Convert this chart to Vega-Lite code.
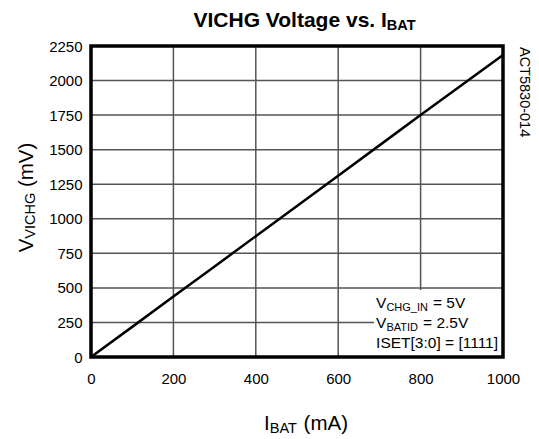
{
  "$schema": "https://vega.github.io/schema/vega-lite/v6.json",
  "autosize": {"type": "none"},
  "width": 412,
  "height": 311,
  "padding": {"left": 91, "top": 46, "right": 36, "bottom": 82},
  "background": "white",
  "config": {
    "view": {"stroke": null},
    "font": "Arial",
    "axis": {
      "labelFont": "Arial",
      "labelFontSize": 15,
      "labelColor": "black",
      "ticks": false,
      "domain": false,
      "labelOverlap": false,
      "labelFlush": false,
      "labelBound": false,
      "format": "d",
      "grid": false
    },
    "text": {"font": "Arial", "color": "black", "baseline": "alphabetic", "fontWeight": "normal"}
  },
  "datasets": {
    "curve": [
      {"i_bat": 0, "v_vichg": 0},
      {"i_bat": 100, "v_vichg": 218},
      {"i_bat": 200, "v_vichg": 437},
      {"i_bat": 300, "v_vichg": 655},
      {"i_bat": 400, "v_vichg": 874},
      {"i_bat": 500, "v_vichg": 1093},
      {"i_bat": 600, "v_vichg": 1312},
      {"i_bat": 700, "v_vichg": 1531},
      {"i_bat": 800, "v_vichg": 1750},
      {"i_bat": 900, "v_vichg": 1968},
      {"i_bat": 1000, "v_vichg": 2185}
    ],
    "xgrid": [{"g": 200}, {"g": 400}, {"g": 600}, {"g": 800}],
    "ygrid": [{"g": 250}, {"g": 500}, {"g": 750}, {"g": 1000}, {"g": 1250}, {"g": 1500}, {"g": 1750}, {"g": 2000}],
    "one": [{"n": 1}]
  },
  "data": {"name": "one"},
  "layer": [
    {
      "data": {"name": "xgrid"},
      "mark": {"type": "rule", "color": "#555555", "strokeWidth": 1.5},
      "encoding": {
        "x": {"field": "g", "type": "quantitative", "title": null, "axis": {"title": null, "values": [0, 200, 400, 600, 800, 1000], "labelPadding": 14}}
      }
    },
    {
      "data": {"name": "ygrid"},
      "mark": {"type": "rule", "color": "#555555", "strokeWidth": 1.5},
      "encoding": {
        "y": {"field": "g", "type": "quantitative", "title": null, "axis": {"title": null, "values": [0, 250, 500, 750, 1000, 1250, 1500, 1750, 2000, 2250], "labelPadding": 9}}
      }
    },
    {
      "data": {"name": "curve"},
      "mark": {"type": "line", "color": "black", "strokeWidth": 2.5},
      "encoding": {
        "x": {"field": "i_bat", "type": "quantitative", "title": null,
              "scale": {"domain": [0, 1000], "nice": false, "zero": false},
              "axis": {"title": null, "values": [0, 200, 400, 600, 800, 1000], "labelPadding": 14}},
        "y": {"field": "v_vichg", "type": "quantitative", "title": null,
              "scale": {"domain": [0, 2250], "nice": false, "zero": false},
              "axis": {"title": null, "values": [0, 250, 500, 750, 1000, 1250, 1500, 1750, 2000, 2250], "labelPadding": 9}}
      }
    },
    {
      "mark": {"type": "rect", "fill": "white", "stroke": null},
      "encoding": {
        "x": {"datum": 687, "type": "quantitative", "title": null, "axis": {"title": null, "values": [0, 200, 400, 600, 800, 1000], "labelPadding": 14}},
        "x2": {"datum": 1000},
        "y": {"datum": 5, "type": "quantitative", "title": null, "axis": {"title": null, "values": [0, 250, 500, 750, 1000, 1250, 1500, 1750, 2000, 2250], "labelPadding": 9}},
        "y2": {"datum": 485}
      }
    },
    {
      "mark": {"type": "text", "text": "V", "align": "right", "fontSize": 15.5},
      "encoding": {"x": {"datum": 717, "type": "quantitative", "title": null, "axis": {"title": null, "values": [0, 200, 400, 600, 800, 1000], "labelPadding": 14}}, "y": {"datum": 355, "type": "quantitative", "title": null, "axis": {"title": null, "values": [0, 250, 500, 750, 1000, 1250, 1500, 1750, 2000, 2250], "labelPadding": 9}}}
    },
    {
      "mark": {"type": "text", "text": "CHG_IN", "align": "left", "fontSize": 11},
      "encoding": {"x": {"datum": 717, "type": "quantitative", "title": null, "axis": {"title": null, "values": [0, 200, 400, 600, 800, 1000], "labelPadding": 14}}, "y": {"datum": 333, "type": "quantitative", "title": null, "axis": {"title": null, "values": [0, 250, 500, 750, 1000, 1250, 1500, 1750, 2000, 2250], "labelPadding": 9}}}
    },
    {
      "mark": {"type": "text", "text": "= 5V", "align": "left", "fontSize": 15.5},
      "encoding": {"x": {"datum": 830, "type": "quantitative", "title": null, "axis": {"title": null, "values": [0, 200, 400, 600, 800, 1000], "labelPadding": 14}}, "y": {"datum": 355, "type": "quantitative", "title": null, "axis": {"title": null, "values": [0, 250, 500, 750, 1000, 1250, 1500, 1750, 2000, 2250], "labelPadding": 9}}}
    },
    {
      "mark": {"type": "text", "text": "V", "align": "right", "fontSize": 15.5},
      "encoding": {"x": {"datum": 717, "type": "quantitative", "title": null, "axis": {"title": null, "values": [0, 200, 400, 600, 800, 1000], "labelPadding": 14}}, "y": {"datum": 210, "type": "quantitative", "title": null, "axis": {"title": null, "values": [0, 250, 500, 750, 1000, 1250, 1500, 1750, 2000, 2250], "labelPadding": 9}}}
    },
    {
      "mark": {"type": "text", "text": "BATID", "align": "left", "fontSize": 11},
      "encoding": {"x": {"datum": 717, "type": "quantitative", "title": null, "axis": {"title": null, "values": [0, 200, 400, 600, 800, 1000], "labelPadding": 14}}, "y": {"datum": 188, "type": "quantitative", "title": null, "axis": {"title": null, "values": [0, 250, 500, 750, 1000, 1250, 1500, 1750, 2000, 2250], "labelPadding": 9}}}
    },
    {
      "mark": {"type": "text", "text": "= 2.5V", "align": "left", "fontSize": 15.5},
      "encoding": {"x": {"datum": 806, "type": "quantitative", "title": null, "axis": {"title": null, "values": [0, 200, 400, 600, 800, 1000], "labelPadding": 14}}, "y": {"datum": 210, "type": "quantitative", "title": null, "axis": {"title": null, "values": [0, 250, 500, 750, 1000, 1250, 1500, 1750, 2000, 2250], "labelPadding": 9}}}
    },
    {
      "mark": {"type": "text", "text": "ISET[3:0] = [1111]", "align": "left", "fontSize": 15.5},
      "encoding": {"x": {"datum": 692, "type": "quantitative", "title": null, "axis": {"title": null, "values": [0, 200, 400, 600, 800, 1000], "labelPadding": 14}}, "y": {"datum": 65, "type": "quantitative", "title": null, "axis": {"title": null, "values": [0, 250, 500, 750, 1000, 1250, 1500, 1750, 2000, 2250], "labelPadding": 9}}}
    },
    {
      "mark": {"type": "rect", "fill": null, "stroke": "black", "strokeWidth": 3.5},
      "encoding": {
        "x": {"datum": 0, "type": "quantitative", "title": null, "axis": {"title": null, "values": [0, 200, 400, 600, 800, 1000], "labelPadding": 14}},
        "x2": {"datum": 1000},
        "y": {"datum": 0, "type": "quantitative", "title": null, "axis": {"title": null, "values": [0, 250, 500, 750, 1000, 1250, 1500, 1750, 2000, 2250], "labelPadding": 9}},
        "y2": {"datum": 2250}
      }
    },
    {
      "mark": {"type": "text", "text": "VICHG Voltage vs. I", "align": "right", "fontSize": 21, "fontWeight": "bold"},
      "encoding": {"x": {"datum": 718, "type": "quantitative", "title": null, "axis": {"title": null, "values": [0, 200, 400, 600, 800, 1000], "labelPadding": 14}}, "y": {"datum": 2387, "type": "quantitative", "title": null, "axis": {"title": null, "values": [0, 250, 500, 750, 1000, 1250, 1500, 1750, 2000, 2250], "labelPadding": 9}}}
    },
    {
      "mark": {"type": "text", "text": "BAT", "align": "left", "fontSize": 14.5, "fontWeight": "bold"},
      "encoding": {"x": {"datum": 718, "type": "quantitative", "title": null, "axis": {"title": null, "values": [0, 200, 400, 600, 800, 1000], "labelPadding": 14}}, "y": {"datum": 2365, "type": "quantitative", "title": null, "axis": {"title": null, "values": [0, 250, 500, 750, 1000, 1250, 1500, 1750, 2000, 2250], "labelPadding": 9}}}
    },
    {
      "mark": {"type": "text", "text": "I", "align": "right", "fontSize": 20.5},
      "encoding": {"x": {"datum": 434, "type": "quantitative", "title": null, "axis": {"title": null, "values": [0, 200, 400, 600, 800, 1000], "labelPadding": 14}}, "y": {"datum": -528, "type": "quantitative", "title": null, "axis": {"title": null, "values": [0, 250, 500, 750, 1000, 1250, 1500, 1750, 2000, 2250], "labelPadding": 9}}}
    },
    {
      "mark": {"type": "text", "text": "BAT", "align": "left", "fontSize": 14.5},
      "encoding": {"x": {"datum": 434, "type": "quantitative", "title": null, "axis": {"title": null, "values": [0, 200, 400, 600, 800, 1000], "labelPadding": 14}}, "y": {"datum": -550, "type": "quantitative", "title": null, "axis": {"title": null, "values": [0, 250, 500, 750, 1000, 1250, 1500, 1750, 2000, 2250], "labelPadding": 9}}}
    },
    {
      "mark": {"type": "text", "text": "(mA)", "align": "left", "fontSize": 20.5},
      "encoding": {"x": {"datum": 516, "type": "quantitative", "title": null, "axis": {"title": null, "values": [0, 200, 400, 600, 800, 1000], "labelPadding": 14}}, "y": {"datum": -528, "type": "quantitative", "title": null, "axis": {"title": null, "values": [0, 250, 500, 750, 1000, 1250, 1500, 1750, 2000, 2250], "labelPadding": 9}}}
    },
    {
      "mark": {"type": "text", "text": "V", "align": "right", "fontSize": 20.5, "angle": 270},
      "encoding": {"x": {"datum": -141, "type": "quantitative", "title": null, "axis": {"title": null, "values": [0, 200, 400, 600, 800, 1000], "labelPadding": 14}}, "y": {"datum": 856, "type": "quantitative", "title": null, "axis": {"title": null, "values": [0, 250, 500, 750, 1000, 1250, 1500, 1750, 2000, 2250], "labelPadding": 9}}}
    },
    {
      "mark": {"type": "text", "text": "VICHG", "align": "left", "fontSize": 14.5, "angle": 270},
      "encoding": {"x": {"datum": -136, "type": "quantitative", "title": null, "axis": {"title": null, "values": [0, 200, 400, 600, 800, 1000], "labelPadding": 14}}, "y": {"datum": 856, "type": "quantitative", "title": null, "axis": {"title": null, "values": [0, 250, 500, 750, 1000, 1250, 1500, 1750, 2000, 2250], "labelPadding": 9}}}
    },
    {
      "mark": {"type": "text", "text": "(mV)", "align": "left", "fontSize": 20.5, "angle": 270},
      "encoding": {"x": {"datum": -141, "type": "quantitative", "title": null, "axis": {"title": null, "values": [0, 200, 400, 600, 800, 1000], "labelPadding": 14}}, "y": {"datum": 1229, "type": "quantitative", "title": null, "axis": {"title": null, "values": [0, 250, 500, 750, 1000, 1250, 1500, 1750, 2000, 2250], "labelPadding": 9}}}
    },
    {
      "mark": {"type": "text", "text": "ACT5830-014", "align": "left", "fontSize": 14.5, "angle": 90},
      "encoding": {"x": {"datum": 1041, "type": "quantitative", "title": null, "axis": {"title": null, "values": [0, 200, 400, 600, 800, 1000], "labelPadding": 14}}, "y": {"datum": 2243, "type": "quantitative", "title": null, "axis": {"title": null, "values": [0, 250, 500, 750, 1000, 1250, 1500, 1750, 2000, 2250], "labelPadding": 9}}}
    }
  ]
}
